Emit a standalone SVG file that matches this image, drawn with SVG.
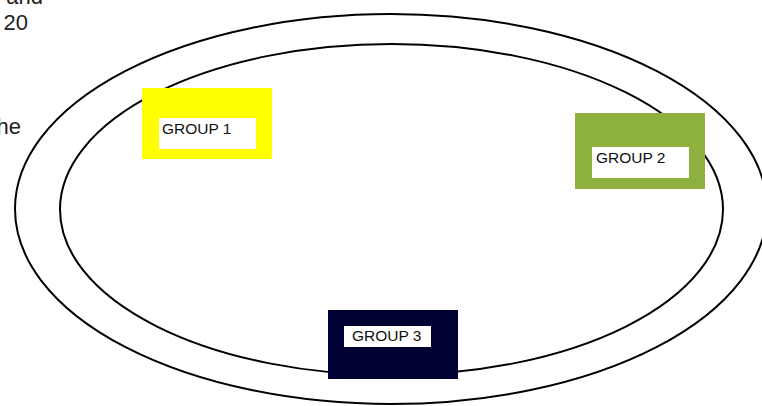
<svg xmlns="http://www.w3.org/2000/svg" width="762" height="406" viewBox="0 0 762 406">
<style>
.bg{fill:#ffffff}
.ring{fill:none;stroke:#000;stroke-width:2}
.lbl{fill:#ffffff}
.t{font-family:"Liberation Sans",Arial,sans-serif;font-size:15.5px;fill:#111}
.side{font-family:"Liberation Sans",Arial,sans-serif;font-size:22px;fill:#222;text-anchor:end}
</style>
<rect class="bg" x="0" y="0" width="762" height="406"/>
<g id="side-text">
<text class="side" x="43" y="4">and</text>
<text class="side" x="28" y="30">20</text>
<text class="side" x="21" y="134">he</text>
</g>
<g id="connectors">
<ellipse class="ring" cx="391" cy="209" rx="376" ry="195"/>
<ellipse class="ring" cx="391.5" cy="209.5" rx="331.5" ry="165.5"/>
</g>
<g id="group1">
<rect x="142" y="88" width="130" height="71" fill="#ffff00"/>
<rect class="lbl" x="159" y="118" width="97" height="31"/>
<text class="t" x="162" y="134">GROUP 1</text>
</g>
<g id="group2">
<rect x="575" y="113" width="130" height="76" fill="#8db03f"/>
<rect class="lbl" x="592" y="147" width="97" height="31"/>
<text class="t" x="596" y="163">GROUP 2</text>
</g>
<g id="group3">
<rect x="328" y="310" width="130" height="69" fill="#000033"/>
<rect class="lbl" x="344" y="326" width="87" height="21"/>
<text class="t" x="352" y="341">GROUP 3</text>
</g>
</svg>
